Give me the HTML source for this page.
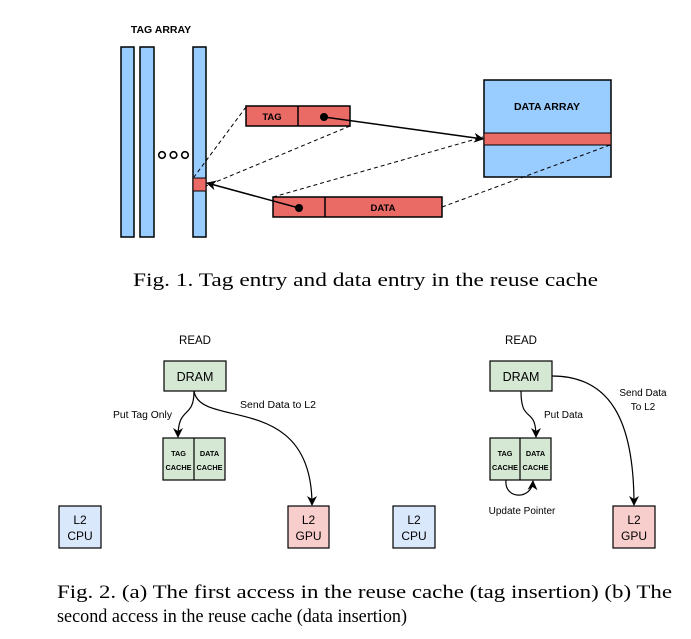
<!DOCTYPE html>
<html><head><style>html,body{margin:0;padding:0;background:#fff}svg{display:block}</style></head>
<body>
<svg width="691" height="639" viewBox="0 0 691 639" xmlns="http://www.w3.org/2000/svg">
<defs>
<marker id="a" markerWidth="10" markerHeight="10" refX="9" refY="5" orient="auto" markerUnits="userSpaceOnUse"><path d="M0,0 L10,5 L0,10 L3,5 Z" fill="#000"/></marker>
</defs>
<g font-family="Liberation Sans, sans-serif">
<text x="161" y="33" font-size="10.5" font-weight="bold" text-anchor="middle">TAG ARRAY</text>
<rect x="121" y="47" width="13" height="190" fill="#99ccff" stroke="#000" stroke-width="1.5"/>
<rect x="140" y="47" width="14" height="190" fill="#99ccff" stroke="#000" stroke-width="1.5"/>
<rect x="193" y="47" width="13" height="190" fill="#99ccff" stroke="#000" stroke-width="1.5"/>
<rect x="193" y="178" width="13" height="13" fill="#ea6b66" stroke="#000" stroke-width="1"/>
<circle cx="162" cy="155" r="3.3" fill="none" stroke="#000" stroke-width="1.6"/>
<circle cx="173.5" cy="155" r="3.3" fill="none" stroke="#000" stroke-width="1.6"/>
<circle cx="185" cy="155" r="3.3" fill="none" stroke="#000" stroke-width="1.6"/>
<rect x="484" y="80" width="127" height="97" fill="#99ccff" stroke="#000" stroke-width="1.5"/>
<rect x="484" y="133" width="127" height="12" fill="#ea6b66" stroke="#000" stroke-width="1"/>
<text x="547" y="110" font-size="10.5" font-weight="bold" text-anchor="middle">DATA ARRAY</text>
<g stroke="#000" stroke-width="1" stroke-dasharray="4,3" fill="none">
<line x1="246" y1="107" x2="194" y2="177"/>
<line x1="350" y1="126" x2="206" y2="186"/>
<line x1="273" y1="197" x2="483" y2="137"/>
<line x1="442" y1="207" x2="610" y2="145"/>
</g>
<rect x="246" y="106" width="104" height="20" fill="#ea6b66" stroke="#000" stroke-width="1.5"/>
<line x1="298" y1="106" x2="298" y2="126" stroke="#000" stroke-width="1.5"/>
<text x="272" y="120" font-size="9.5" font-weight="bold" text-anchor="middle">TAG</text>
<rect x="273" y="197" width="169" height="20" fill="#ea6b66" stroke="#000" stroke-width="1.5"/>
<line x1="325" y1="197" x2="325" y2="217" stroke="#000" stroke-width="1.5"/>
<text x="383" y="211" font-size="9.5" font-weight="bold" text-anchor="middle">DATA</text>
<circle cx="324" cy="117" r="4" fill="#000"/>
<circle cx="299" cy="208" r="4" fill="#000"/>
<line x1="324" y1="117" x2="483" y2="139" stroke="#000" stroke-width="1.5" marker-end="url(#a)"/>
<line x1="299" y1="208" x2="207" y2="183" stroke="#000" stroke-width="1.5" marker-end="url(#a)"/>

<text x="195" y="344" font-size="11.5" text-anchor="middle">READ</text>
<rect x="164" y="361" width="62" height="30" fill="#d5e8d4" stroke="#000" stroke-width="1.2"/>
<text x="195" y="381" font-size="12.5" text-anchor="middle">DRAM</text>
<rect x="163" y="438" width="62" height="42" fill="#d5e8d4" stroke="#000" stroke-width="1.2"/>
<line x1="194" y1="438" x2="194" y2="480" stroke="#000" stroke-width="1.2"/>
<g font-size="7.3" font-weight="bold" text-anchor="middle">
<text x="178.5" y="456">TAG</text><text x="178.5" y="470">CACHE</text>
<text x="209.5" y="456">DATA</text><text x="209.5" y="470">CACHE</text>
</g>
<path d="M194,391 C194,420 178,405 178,437" fill="none" stroke="#000" stroke-width="1.2" marker-end="url(#a)"/>
<path d="M194,391 C200,430 312,390 312,505" fill="none" stroke="#000" stroke-width="1.2" marker-end="url(#a)"/>
<text x="113" y="418" font-size="10" textLength="59" lengthAdjust="spacingAndGlyphs">Put Tag Only</text>
<text x="240" y="408" font-size="10" textLength="76" lengthAdjust="spacingAndGlyphs">Send Data to L2</text>
<rect x="59" y="506" width="42" height="42" fill="#dae8fc" stroke="#000" stroke-width="1.2"/>
<text x="80" y="524" font-size="12" text-anchor="middle">L2</text><text x="80" y="540" font-size="12" text-anchor="middle">CPU</text>
<rect x="288" y="506" width="41" height="42" fill="#f8cecc" stroke="#000" stroke-width="1.2"/>
<text x="308.5" y="524" font-size="12" text-anchor="middle">L2</text><text x="308.5" y="540" font-size="12" text-anchor="middle">GPU</text>

<text x="521" y="344" font-size="11.5" text-anchor="middle">READ</text>
<rect x="490" y="361" width="62" height="30" fill="#d5e8d4" stroke="#000" stroke-width="1.2"/>
<text x="521" y="381" font-size="12.5" text-anchor="middle">DRAM</text>
<rect x="490" y="438" width="61" height="42" fill="#d5e8d4" stroke="#000" stroke-width="1.2"/>
<line x1="520" y1="438" x2="520" y2="480" stroke="#000" stroke-width="1.2"/>
<g font-size="7.3" font-weight="bold" text-anchor="middle">
<text x="505" y="456">TAG</text><text x="505" y="470">CACHE</text>
<text x="535.5" y="456">DATA</text><text x="535.5" y="470">CACHE</text>
</g>
<path d="M521,391 C521,425 536,405 536,437" fill="none" stroke="#000" stroke-width="1.2" marker-end="url(#a)"/>
<path d="M552,376 C610,376 634,420 634,505" fill="none" stroke="#000" stroke-width="1.2" marker-end="url(#a)"/>
<path d="M506,480 C504,500 532,500 533,481" fill="none" stroke="#000" stroke-width="1.2" marker-end="url(#a)"/>
<text x="544" y="418" font-size="10">Put Data</text>
<text x="643" y="396" font-size="10" text-anchor="middle">Send Data</text>
<text x="643" y="410" font-size="10" text-anchor="middle">To L2</text>
<text x="522" y="514" font-size="10" text-anchor="middle">Update Pointer</text>
<rect x="393" y="506" width="42" height="42" fill="#dae8fc" stroke="#000" stroke-width="1.2"/>
<text x="414" y="524" font-size="12" text-anchor="middle">L2</text><text x="414" y="540" font-size="12" text-anchor="middle">CPU</text>
<rect x="613" y="506" width="42" height="42" fill="#f8cecc" stroke="#000" stroke-width="1.2"/>
<text x="634" y="524" font-size="12" text-anchor="middle">L2</text><text x="634" y="540" font-size="12" text-anchor="middle">GPU</text>
</g>
<g font-family="Liberation Serif, serif" font-size="18.5">
<text x="133" y="286" textLength="465" lengthAdjust="spacingAndGlyphs">Fig. 1.  Tag entry and data entry in the reuse cache</text>
<text x="57" y="598" textLength="615" lengthAdjust="spacingAndGlyphs">Fig. 2.  (a) The first access in the reuse cache (tag insertion) (b) The</text>
<text x="57" y="622" textLength="350" lengthAdjust="spacingAndGlyphs">second access in the reuse cache (data insertion)</text>
</g>
</svg>
</body></html>
